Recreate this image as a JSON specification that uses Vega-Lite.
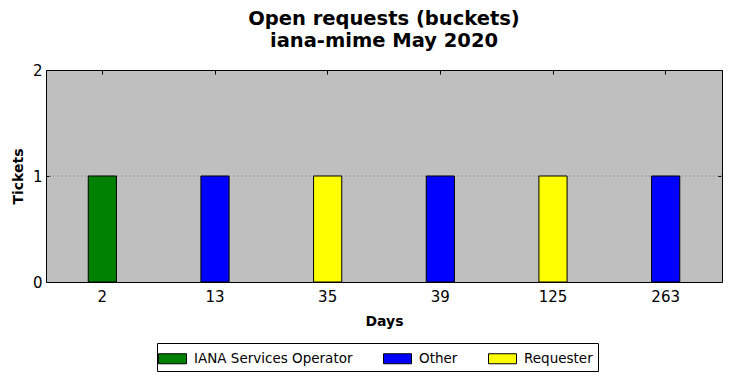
{
  "$schema": "https://vega.github.io/schema/vega-lite/v6.json",
  "width": 676,
  "height": 212,
  "autosize": {"type": "none"},
  "padding": {"left": 46, "top": 70, "right": 9, "bottom": 96},
  "background": "white",
  "title": {
    "text": ["Open requests (buckets)", "iana-mime May 2020"],
    "font": "DejaVu Sans",
    "fontSize": 19.5,
    "fontWeight": "bold",
    "lineHeight": 22,
    "anchor": "middle",
    "offset": 12,
    "color": "black"
  },
  "data": {
    "values": [
      {"days": "2", "tickets": 1, "owner": "IANA Services Operator"},
      {"days": "13", "tickets": 1, "owner": "Other"},
      {"days": "35", "tickets": 1, "owner": "Requester"},
      {"days": "39", "tickets": 1, "owner": "Other"},
      {"days": "125", "tickets": 1, "owner": "Requester"},
      {"days": "263", "tickets": 1, "owner": "Other"}
    ]
  },
  "config": {
    "view": {"fill": "#bfbfbf", "stroke": "black", "strokeWidth": 1},
    "axis": {
      "labelFont": "DejaVu Sans",
      "labelFontSize": 15,
      "labelColor": "black",
      "titleFont": "DejaVu Sans",
      "titleFontSize": 14,
      "titleFontWeight": "bold",
      "titleColor": "black",
      "domain": false,
      "tickColor": "black",
      "tickSize": -4,
      "tickWidth": 1,
      "grid": false,
      "zindex": 1
    }
  },
  "resolve": {"axis": {"x": "independent", "y": "independent"}},
  "layer": [
    {
      "mark": {"type": "rule", "color": "#999999", "strokeDash": [1, 3], "strokeWidth": 1},
      "encoding": {
        "y": {"datum": 1, "type": "quantitative", "scale": {"domain": [0, 2], "nice": false}, "axis": null}
      }
    },
    {
      "mark": {"type": "bar", "stroke": "black", "strokeWidth": 1},
      "encoding": {
        "x": {
          "field": "days",
          "type": "ordinal",
          "sort": null,
          "title": "Days",
          "scale": {"paddingInner": 0.75, "paddingOuter": 0.375},
          "axis": {"labelAngle": 0, "labelPadding": 11, "titlePadding": 10}
        },
        "y": {
          "field": "tickets",
          "type": "quantitative",
          "title": "Tickets",
          "scale": {"domain": [0, 2], "nice": false},
          "axis": {
            "orient": "left",
            "tickCount": 2,
            "format": "d",
            "labelPadding": 8,
            "titlePadding": 7,
            "labelOverlap": false
          }
        },
        "color": {
          "field": "owner",
          "type": "nominal",
          "scale": {
            "domain": ["IANA Services Operator", "Other", "Requester"],
            "range": ["#008000", "#0000ff", "#ffff00"]
          },
          "legend": {
            "title": null,
            "orient": "none",
            "direction": "horizontal",
            "legendX": 111,
            "legendY": 273,
            "strokeColor": "black",
            "fillColor": "white",
            "padding": 5,
            "symbolType": "M-1.4,-0.5H1.4V0.5H-1.4Z",
            "symbolSize": 400,
            "symbolStrokeColor": "black",
            "symbolStrokeWidth": 1,
            "symbolOpacity": 1,
            "labelFont": "DejaVu Sans",
            "labelFontSize": 13.5,
            "labelLimit": 400,
            "labelColor": "black",
            "labelOffset": 11,
            "columnPadding": 28,
            "cornerRadius": 0
          }
        }
      }
    },
    {
      "mark": {"type": "tick", "opacity": 0},
      "encoding": {
        "x": {
          "field": "days",
          "type": "ordinal",
          "sort": null,
          "axis": {"orient": "top", "labels": false, "title": null}
        },
        "y": {
          "field": "tickets",
          "type": "quantitative",
          "axis": {"orient": "right", "tickCount": 2, "labels": false, "title": null}
        }
      }
    }
  ]
}
